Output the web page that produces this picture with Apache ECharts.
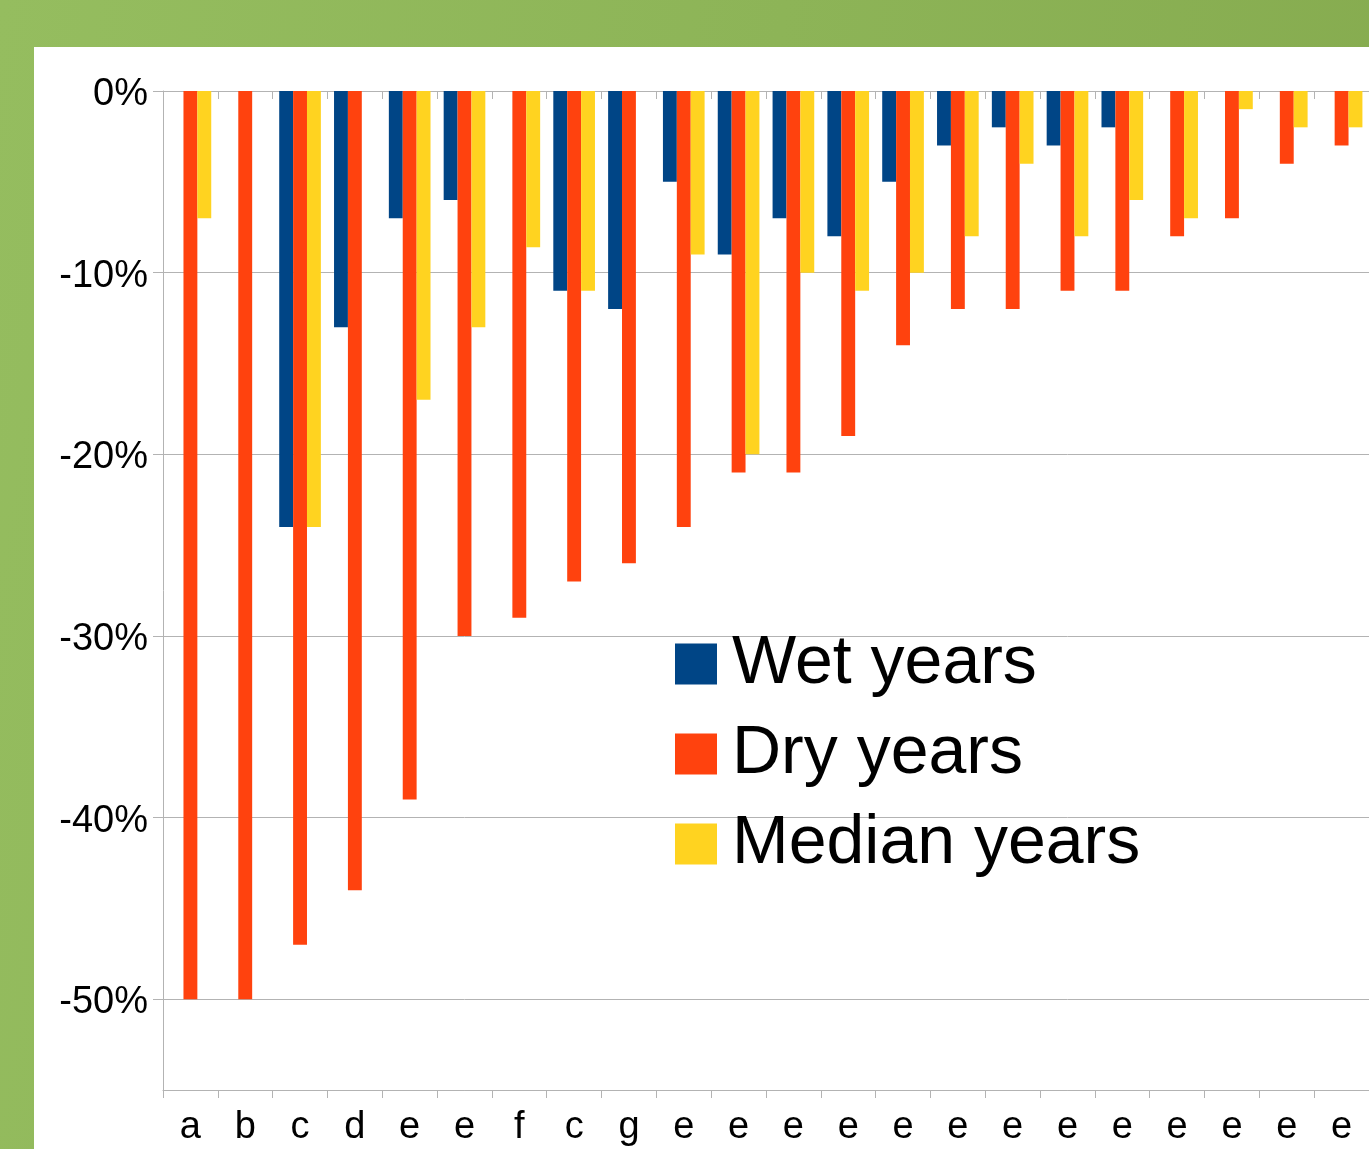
<!DOCTYPE html>
<html>
<head>
<meta charset="utf-8">
<script src="https://cdn.jsdelivr.net/npm/echarts@6/dist/echarts.min.js"></script>
<style>
  html, body { margin: 0; padding: 0; }
  body {
    width: 1369px; height: 1149px; overflow: hidden; position: relative;
    background: linear-gradient(100deg, #95bd5f 0%, #8db457 50%, #85aa4e 100%);
  }
  #chart {
    position: absolute; left: 34px; top: 47px;
    width: 1335px; height: 1102px; background: #ffffff;
  }
</style>
</head>
<body>
<div id="chart"></div>
<script>
// Category labels along the bottom axis
const categories = ['a', 'b', 'c', 'd', 'e', 'e', 'f', 'c', 'g', 'e', 'e', 'e', 'e', 'e', 'e', 'e', 'e', 'e', 'e', 'e', 'e', 'e'];

// Change in percent for each category
const wetYears    = [null, null, -24, -13, -7, -6, null, -11, -12, -5, -9, -7, -8, -5, -3, -2, -3, -2, null, null, null, null];
const dryYears    = [-50, -50, -47, -44, -39, -30, -29, -27, -26, -24, -21, -21, -19, -14, -12, -12, -11, -11, -8, -7, -4, -3];
const medianYears = [-7, null, -24, null, -17, -13, -8.6, -11, null, -9, -20, -10, -11, -10, -8, -4, -8, -6, -7, -1, -2, -2];

const seriesNames = ['Wet years', 'Dry years', 'Median years'];
const seriesColors = ['#004586', '#ff420e', '#ffd320'];

const FONT = '"Liberation Sans", Arial, sans-serif';
const GRID_GRAY = '#b3b3b3';

const chart = echarts.init(document.getElementById('chart'), null, { renderer: 'canvas' });

const dataSets = [wetYears, dryYears, medianYears];

chart.setOption({
  animation: false,
  backgroundColor: '#ffffff',
  grid: { left: 129, top: 44, right: 0, bottom: 59, containLabel: false },
  legend: {
    orient: 'vertical',
    left: 636,
    top: 578,
    itemWidth: 42,
    itemHeight: 41,
    itemGap: 22,
    icon: 'rect',
    textStyle: { fontFamily: FONT, fontSize: 68, color: '#000000', lineHeight: 68, padding: [0, 0, 0, 10] },
    data: seriesNames
  },
  xAxis: [
    {
      type: 'category',
      data: categories,
      position: 'bottom',
      axisLine: { onZero: false, lineStyle: { color: GRID_GRAY, width: 1 } },
      axisTick: { show: true, length: 8, inside: false, lineStyle: { color: GRID_GRAY } },
      axisLabel: { fontFamily: FONT, fontSize: 38, color: '#000000', margin: 19, interval: 0 }
    },
    {
      // zero line with inward ticks at the category boundaries
      type: 'category',
      data: categories,
      position: 'top',
      axisLine: { onZero: false, lineStyle: { color: GRID_GRAY, width: 1 } },
      axisTick: { show: true, length: 8, inside: true, lineStyle: { color: GRID_GRAY } },
      axisLabel: { show: false }
    }
  ],
  yAxis: {
    type: 'value',
    min: -55,
    max: 0,
    splitNumber: 5,
    axisLine: { show: true, lineStyle: { color: GRID_GRAY, width: 1 } },
    axisTick: { show: true, length: 10, lineStyle: { color: GRID_GRAY } },
    splitLine: { show: true, lineStyle: { color: GRID_GRAY, width: 1 } },
    axisLabel: {
      color: '#000000', margin: 15,
      showMinLabel: false,
      formatter: v => (v % 10 === 0 ? '{p|' + v + '%}' : ''),
      rich: {
        p: { fontFamily: FONT, fontSize: 38, color: '#000000', padding: [7, 0, 0, 0] }
      }
    }
  },
  series: seriesNames.map((name, i) => ({
    name: name,
    type: 'bar',
    xAxisIndex: 0,
    data: dataSets[i],
    barGap: '0%',
    barCategoryGap: '24%',
    itemStyle: { color: seriesColors[i] }
  }))
});
</script>
</body>
</html>
